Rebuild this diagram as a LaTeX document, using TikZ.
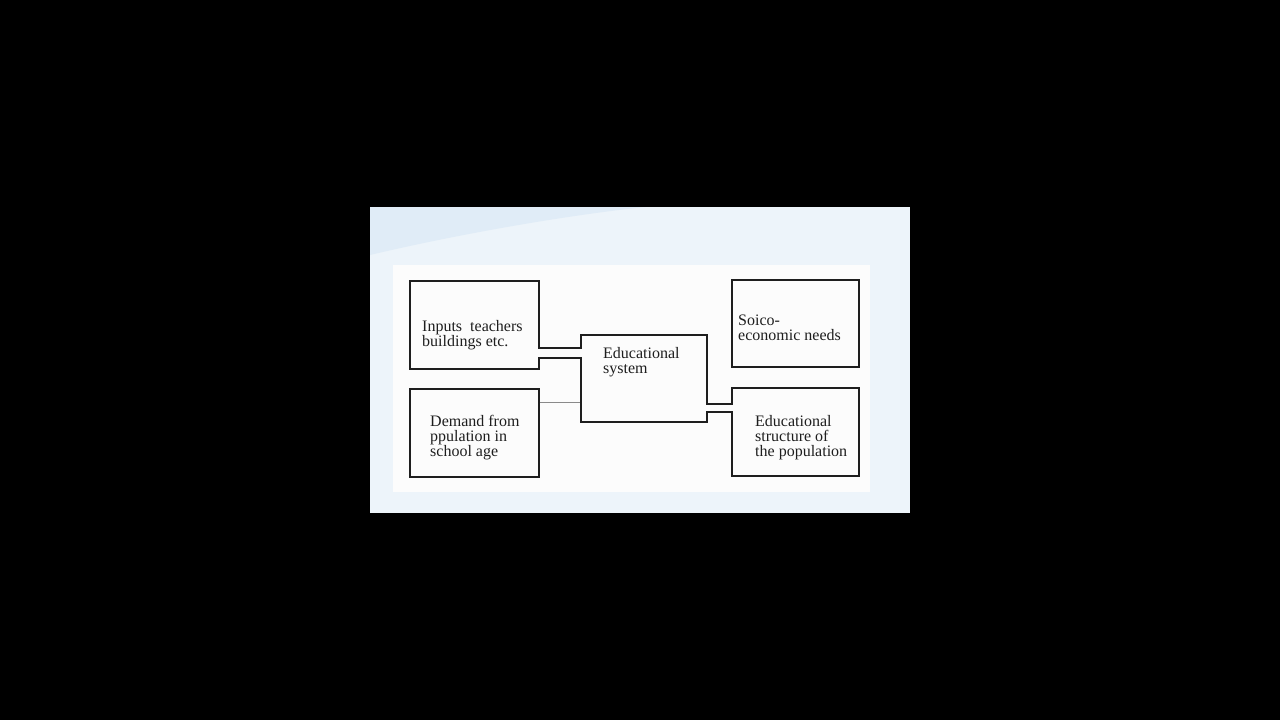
\documentclass[tikz,border=0pt]{standalone}
\usepackage{fontspec}
\setmainfont{Liberation Serif}
\definecolor{linec}{HTML}{1E1E1E}
\definecolor{panel}{HTML}{EDF4FA}
\definecolor{swoosh}{HTML}{E0ECF7}
\definecolor{paper}{HTML}{FCFCFC}
\definecolor{thinc}{HTML}{8A8A8A}
\begin{document}
\begin{tikzpicture}[x=1pt,y=-1pt,
  box/.style={draw=linec, line width=1.8pt, inner sep=0pt},
  lbl/.style={anchor=base west, align=left, inner sep=0pt, text=linec,
              font=\fontsize{16}{15}\selectfont},
  chan/.style={draw=linec, line width=1.8pt},
  thin/.style={draw=thinc, line width=0.8pt}]
\useasboundingbox (0,0) rectangle (1280,720);
\fill[black] (0,0) rectangle (1280,720);
\fill[panel] (370,207) rectangle (910,513);
\fill[swoosh] (370,207) -- (645,207) .. controls (560,216) and (450,236) .. (370,255) -- cycle;
\fill[paper] (393,265) rectangle (870,492);

% boxes
\node[box, minimum width=129pt, minimum height=88pt] (inp) at (474.5,325) {};
\node[box, minimum width=129pt, minimum height=88pt] (dem) at (474.5,433) {};
\node[box, minimum width=126pt, minimum height=87pt] (edu) at (644,378.5) {};
\node[box, minimum width=127pt, minimum height=87pt] (soc) at (795.5,323.5) {};
\node[box, minimum width=127pt, minimum height=88pt] (est) at (795.5,432) {};

% labels (anchored at the baseline of their last line)
\node[lbl] (tinp) at (422,346) {Inputs\ \ teachers\\buildings etc.};
\node[lbl] (tdem) at (430,456) {Demand from\\ppulation in\\school age};
\node[lbl] (tedu) at (603,373) {Educational\\system};
\node[lbl] (tsoc) at (738,340) {Soico-\\economic needs};
\node[lbl] (test) at (755,456) {Educational\\structure of\\the population};

% channel inputs -> educational system
\fill[paper] ([xshift=-2pt]inp.east |- 0,349) rectangle ([xshift=2pt]edu.west |- 0,357);
\draw[chan] (inp.east |- 0,348) -- (edu.west |- 0,348);
\draw[chan] (inp.east |- 0,358) -- (edu.west |- 0,358);

% channel educational system -> educational structure
\fill[paper] ([xshift=-2pt]edu.east |- 0,405) rectangle ([xshift=2pt]est.west |- 0,411);
\draw[chan] (edu.east |- 0,404) -- (est.west |- 0,404);
\draw[chan] (edu.east |- 0,412) -- (est.west |- 0,412);

% thin link demand -> educational system
\draw[thin] (dem.east |- 0,402) -- (edu.west |- 0,402);
\end{tikzpicture}
\end{document}
